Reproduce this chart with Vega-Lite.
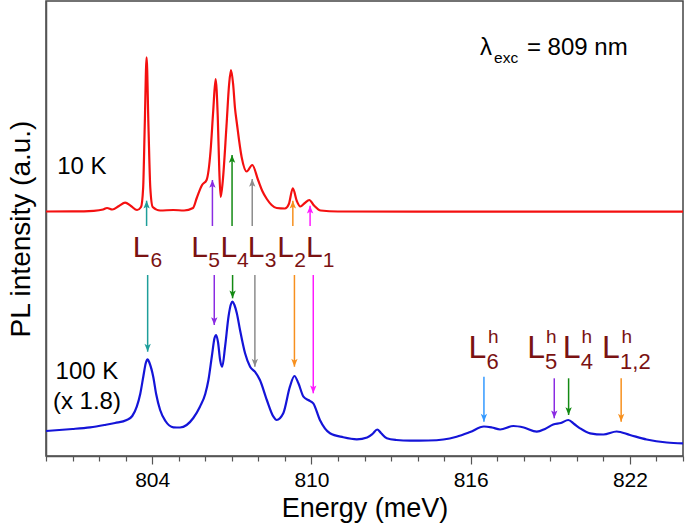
{
  "$schema": "https://vega.github.io/schema/vega-lite/v6.json",
  "width": 637,
  "height": 455,
  "autosize": {"type": "none"},
  "padding": {"left": 46, "top": 1, "right": 2, "bottom": 74},
  "config": {
    "view": {"stroke": "#444", "strokeWidth": 1.5},
    "font": "Liberation Sans",
    "axis": {"domainColor": "#555", "domainWidth": 1.5, "tickColor": "#555", "tickWidth": 1.2, "grid": false, "labelFont": "Liberation Sans", "titleFont": "Liberation Sans", "titleFontWeight": "normal", "labelColor": "#000", "titleColor": "#000"}
  },
  "datasets": {
    "spectra": [
      {"s": "10 K", "e": 800.0, "v": 244.5}, {"s": "10 K", "e": 801.0, "v": 244.6}, {"s": "10 K", "e": 801.8, "v": 245.2},
      {"s": "10 K", "e": 802.15, "v": 246.5}, {"s": "10 K", "e": 802.3, "v": 248}, {"s": "10 K", "e": 802.5, "v": 246.5},
      {"s": "10 K", "e": 802.75, "v": 250}, {"s": "10 K", "e": 802.98, "v": 253.3}, {"s": "10 K", "e": 803.2, "v": 250},
      {"s": "10 K", "e": 803.43, "v": 246}, {"s": "10 K", "e": 803.58, "v": 249}, {"s": "10 K", "e": 803.66, "v": 268},
      {"s": "10 K", "e": 803.72, "v": 330}, {"s": "10 K", "e": 803.79, "v": 398.7}, {"s": "10 K", "e": 803.86, "v": 330},
      {"s": "10 K", "e": 803.93, "v": 268}, {"s": "10 K", "e": 804.02, "v": 249}, {"s": "10 K", "e": 804.3, "v": 245.5},
      {"s": "10 K", "e": 804.8, "v": 246}, {"s": "10 K", "e": 805.2, "v": 245.5}, {"s": "10 K", "e": 805.54, "v": 248},
      {"s": "10 K", "e": 805.68, "v": 258}, {"s": "10 K", "e": 805.88, "v": 271}, {"s": "10 K", "e": 806.05, "v": 276},
      {"s": "10 K", "e": 806.2, "v": 305}, {"s": "10 K", "e": 806.3, "v": 345}, {"s": "10 K", "e": 806.39, "v": 377},
      {"s": "10 K", "e": 806.47, "v": 340}, {"s": "10 K", "e": 806.53, "v": 285}, {"s": "10 K", "e": 806.58, "v": 259},
      {"s": "10 K", "e": 806.66, "v": 275}, {"s": "10 K", "e": 806.8, "v": 330}, {"s": "10 K", "e": 806.9, "v": 372},
      {"s": "10 K", "e": 806.97, "v": 386}, {"s": "10 K", "e": 807.05, "v": 372}, {"s": "10 K", "e": 807.12, "v": 348},
      {"s": "10 K", "e": 807.19, "v": 333}, {"s": "10 K", "e": 807.37, "v": 299}, {"s": "10 K", "e": 807.56, "v": 284.5},
      {"s": "10 K", "e": 807.77, "v": 291}, {"s": "10 K", "e": 807.99, "v": 276}, {"s": "10 K", "e": 808.15, "v": 265},
      {"s": "10 K", "e": 808.32, "v": 257}, {"s": "10 K", "e": 808.5, "v": 251}, {"s": "10 K", "e": 808.69, "v": 248},
      {"s": "10 K", "e": 809.0, "v": 247.5}, {"s": "10 K", "e": 809.15, "v": 252}, {"s": "10 K", "e": 809.3, "v": 267.7},
      {"s": "10 K", "e": 809.45, "v": 255}, {"s": "10 K", "e": 809.58, "v": 249.5}, {"s": "10 K", "e": 809.75, "v": 253},
      {"s": "10 K", "e": 809.92, "v": 256}, {"s": "10 K", "e": 810.1, "v": 250.5}, {"s": "10 K", "e": 810.35, "v": 245.5},
      {"s": "10 K", "e": 811.0, "v": 244.5}, {"s": "10 K", "e": 814.0, "v": 244.4}, {"s": "10 K", "e": 818.0, "v": 244.3},
      {"s": "10 K", "e": 824.0, "v": 244.3},

      {"s": "100 K", "e": 800.0, "v": 25}, {"s": "100 K", "e": 800.5, "v": 26}, {"s": "100 K", "e": 801.0, "v": 27},
      {"s": "100 K", "e": 801.66, "v": 28.7}, {"s": "100 K", "e": 802.2, "v": 31}, {"s": "100 K", "e": 802.6, "v": 33},
      {"s": "100 K", "e": 803.04, "v": 36}, {"s": "100 K", "e": 803.25, "v": 40}, {"s": "100 K", "e": 803.42, "v": 49.3},
      {"s": "100 K", "e": 803.55, "v": 62}, {"s": "100 K", "e": 803.67, "v": 80}, {"s": "100 K", "e": 803.76, "v": 93},
      {"s": "100 K", "e": 803.83, "v": 96.7}, {"s": "100 K", "e": 803.9, "v": 93}, {"s": "100 K", "e": 804.04, "v": 79.3},
      {"s": "100 K", "e": 804.15, "v": 62}, {"s": "100 K", "e": 804.3, "v": 46}, {"s": "100 K", "e": 804.5, "v": 35},
      {"s": "100 K", "e": 804.8, "v": 28.7}, {"s": "100 K", "e": 805.05, "v": 28.5}, {"s": "100 K", "e": 805.3, "v": 31},
      {"s": "100 K", "e": 805.55, "v": 38}, {"s": "100 K", "e": 805.8, "v": 49.3}, {"s": "100 K", "e": 806.0, "v": 62},
      {"s": "100 K", "e": 806.12, "v": 76}, {"s": "100 K", "e": 806.25, "v": 100}, {"s": "100 K", "e": 806.35, "v": 118},
      {"s": "100 K", "e": 806.41, "v": 121}, {"s": "100 K", "e": 806.48, "v": 114}, {"s": "100 K", "e": 806.56, "v": 96},
      {"s": "100 K", "e": 806.64, "v": 89.3}, {"s": "100 K", "e": 806.75, "v": 110}, {"s": "100 K", "e": 806.88, "v": 140},
      {"s": "100 K", "e": 806.97, "v": 152}, {"s": "100 K", "e": 807.03, "v": 154.3}, {"s": "100 K", "e": 807.1, "v": 151},
      {"s": "100 K", "e": 807.19, "v": 142.7}, {"s": "100 K", "e": 807.31, "v": 126}, {"s": "100 K", "e": 807.5, "v": 102.7},
      {"s": "100 K", "e": 807.69, "v": 89.3}, {"s": "100 K", "e": 807.87, "v": 84.3}, {"s": "100 K", "e": 808.06, "v": 76},
      {"s": "100 K", "e": 808.32, "v": 56}, {"s": "100 K", "e": 808.57, "v": 39.3}, {"s": "100 K", "e": 808.69, "v": 36},
      {"s": "100 K", "e": 808.94, "v": 42.7}, {"s": "100 K", "e": 809.19, "v": 69.3}, {"s": "100 K", "e": 809.36, "v": 80},
      {"s": "100 K", "e": 809.51, "v": 72.7}, {"s": "100 K", "e": 809.7, "v": 59.3}, {"s": "100 K", "e": 809.88, "v": 56},
      {"s": "100 K", "e": 810.07, "v": 52.7}, {"s": "100 K", "e": 810.32, "v": 36}, {"s": "100 K", "e": 810.7, "v": 22.7},
      {"s": "100 K", "e": 811.2, "v": 18.7}, {"s": "100 K", "e": 811.71, "v": 16.7}, {"s": "100 K", "e": 812.1, "v": 18.5},
      {"s": "100 K", "e": 812.3, "v": 22}, {"s": "100 K", "e": 812.48, "v": 26.5}, {"s": "100 K", "e": 812.62, "v": 23},
      {"s": "100 K", "e": 812.84, "v": 17.7}, {"s": "100 K", "e": 813.2, "v": 16}, {"s": "100 K", "e": 813.72, "v": 15.3},
      {"s": "100 K", "e": 814.4, "v": 15.5}, {"s": "100 K", "e": 814.97, "v": 16.5}, {"s": "100 K", "e": 815.47, "v": 19.3},
      {"s": "100 K", "e": 815.98, "v": 24}, {"s": "100 K", "e": 816.5, "v": 29.5}, {"s": "100 K", "e": 816.8, "v": 28.5},
      {"s": "100 K", "e": 817.11, "v": 26.5}, {"s": "100 K", "e": 817.61, "v": 30}, {"s": "100 K", "e": 818.0, "v": 28.5},
      {"s": "100 K", "e": 818.49, "v": 24.3}, {"s": "100 K", "e": 818.8, "v": 27}, {"s": "100 K", "e": 819.11, "v": 31.5},
      {"s": "100 K", "e": 819.4, "v": 33}, {"s": "100 K", "e": 819.68, "v": 36}, {"s": "100 K", "e": 819.9, "v": 32},
      {"s": "100 K", "e": 820.12, "v": 27.7}, {"s": "100 K", "e": 820.5, "v": 22.7}, {"s": "100 K", "e": 821.0, "v": 21.5},
      {"s": "100 K", "e": 821.5, "v": 24.5}, {"s": "100 K", "e": 822.0, "v": 21}, {"s": "100 K", "e": 822.63, "v": 16.5},
      {"s": "100 K", "e": 823.39, "v": 13.5}, {"s": "100 K", "e": 824.0, "v": 12.7}
    ],
    "arrows": [
      {"k": "L6", "e": 803.79, "y1": 230, "y2": 255.3, "dir": "up"},
      {"k": "L5", "e": 806.27, "y1": 230, "y2": 276, "dir": "up"},
      {"k": "L4", "e": 807.01, "y1": 230, "y2": 301, "dir": "up"},
      {"k": "L3", "e": 807.77, "y1": 230, "y2": 277, "dir": "up"},
      {"k": "L2", "e": 809.30, "y1": 230, "y2": 255.3, "dir": "up"},
      {"k": "L1", "e": 809.95, "y1": 230, "y2": 250.3, "dir": "up"},
      {"k": "L6", "e": 803.83, "y1": 181, "y2": 104.3, "dir": "down"},
      {"k": "L5", "e": 806.34, "y1": 181, "y2": 131, "dir": "down"},
      {"k": "L4", "e": 807.03, "y1": 181, "y2": 157.7, "dir": "down"},
      {"k": "L3", "e": 807.87, "y1": 181, "y2": 89.3, "dir": "down"},
      {"k": "L2", "e": 809.36, "y1": 181, "y2": 89.3, "dir": "down"},
      {"k": "L1", "e": 810.07, "y1": 181, "y2": 62.7, "dir": "down"},
      {"k": "L6h", "e": 816.50, "y1": 79.3, "y2": 34.3, "dir": "down"},
      {"k": "L5", "e": 819.15, "y1": 77.7, "y2": 37.7, "dir": "down"},
      {"k": "L4", "e": 819.69, "y1": 77.7, "y2": 41, "dir": "down"},
      {"k": "L2", "e": 821.67, "y1": 77.7, "y2": 34.3, "dir": "down"}
    ],
    "labels": [
      {"kind": "note", "t": "10 K", "e": 800.42, "v": 282},
      {"kind": "note", "t": "100 K", "e": 800.36, "v": 76.7},
      {"kind": "note", "t": "(x 1.8)", "e": 800.26, "v": 47},
      {"kind": "note", "t": "λ", "e": 816.35, "v": 401},
      {"kind": "note", "t": "= 809 nm", "e": 818.12, "v": 401},
      {"kind": "noteSub", "t": "exc", "e": 816.88, "v": 393},
      {"kind": "L", "t": "L", "e": 803.27, "v": 198.7},
      {"kind": "L", "t": "L", "e": 805.47, "v": 198.7},
      {"kind": "L", "t": "L", "e": 806.57, "v": 198.7},
      {"kind": "L", "t": "L", "e": 807.60, "v": 198.7},
      {"kind": "L", "t": "L", "e": 808.71, "v": 198.7},
      {"kind": "L", "t": "L", "e": 809.80, "v": 198.7},
      {"kind": "Lsub", "t": "6", "e": 803.94, "v": 189.3},
      {"kind": "Lsub", "t": "5", "e": 806.11, "v": 189.3},
      {"kind": "Lsub", "t": "4", "e": 807.2, "v": 189.3},
      {"kind": "Lsub", "t": "3", "e": 808.24, "v": 189.3},
      {"kind": "Lsub", "t": "2", "e": 809.35, "v": 189.3},
      {"kind": "Lsub", "t": "1", "e": 810.43, "v": 189.3},
      {"kind": "Lh", "t": "L", "e": 815.92, "v": 97.7},
      {"kind": "Lh", "t": "L", "e": 818.13, "v": 97.7},
      {"kind": "Lh", "t": "L", "e": 819.47, "v": 97.7},
      {"kind": "Lh", "t": "L", "e": 820.95, "v": 97.7},
      {"kind": "Lhsub", "t": "6", "e": 816.60, "v": 87},
      {"kind": "Lhsub", "t": "5", "e": 818.80, "v": 87},
      {"kind": "Lhsub", "t": "4", "e": 820.15, "v": 87},
      {"kind": "Lhsub", "t": "1,2", "e": 821.63, "v": 87},
      {"kind": "Lhsup", "t": "h", "e": 816.65, "v": 113},
      {"kind": "Lhsup", "t": "h", "e": 818.84, "v": 113},
      {"kind": "Lhsup", "t": "h", "e": 820.18, "v": 113},
      {"kind": "Lhsup", "t": "h", "e": 821.68, "v": 113}
    ]
  },
  "encoding": {
    "x": {"field": "e", "type": "quantitative", "scale": {"domain": [800, 824], "nice": false, "zero": false},
      "axis": {"title": "Energy (meV)", "titleFontSize": 27, "titlePadding": 5, "labelFontSize": 21, "labelPadding": 5,
        "values": [800,801,802,803,804,805,806,807,808,809,810,811,812,813,814,815,816,817,818,819,820,821,822,823,824],
        "labelExpr": "datum.value % 6 == 0 ? datum.label : ''",
        "tickSize": {"condition": {"test": "datum.value % 6 == 0", "value": 8}, "value": 5},
        "labelFlush": false, "labelOverlap": false}}
  },
  "layer": [
    {
      "data": {"name": "spectra"},
      "mark": {"type": "line", "interpolate": "monotone", "strokeWidth": 2.2, "clip": true},
      "encoding": {
        "y": {"field": "v", "type": "quantitative", "scale": {"domain": [0, 455], "nice": false, "zero": false},
          "axis": {"title": "PL intensity (a.u.)", "titleFontSize": 28, "titlePadding": 11, "labels": false, "ticks": false}},
        "stroke": {"field": "s", "type": "nominal", "scale": {"domain": ["10 K", "100 K"], "range": ["#f41010", "#1414d8"]}, "legend": null},
        "detail": {"field": "s"}
      }
    },
    {
      "data": {"name": "arrows"},
      "mark": {"type": "rule", "strokeWidth": 1.5},
      "encoding": {
        "y": {"field": "y1", "type": "quantitative"},
        "y2": {"field": "y2"},
        "color": {"field": "k", "type": "nominal", "scale": {"domain": ["L6", "L5", "L4", "L3", "L2", "L1", "L6h"], "range": ["#1e9e9a", "#8a2be2", "#138a13", "#8c8c8c", "#f7901e", "#ff1aff", "#3399ff"]}, "legend": null}
      }
    },
    {
      "data": {"name": "arrows"},
      "transform": [{"filter": "datum.dir == 'up'"}],
      "mark": {"type": "point", "filled": true, "opacity": 1, "shape": "M0,0L-0.85,2.1L0,1.6L0.85,2.1Z", "size": 56},
      "encoding": {
        "y": {"field": "y2", "type": "quantitative"},
        "color": {"field": "k", "type": "nominal", "legend": null}
      }
    },
    {
      "data": {"name": "arrows"},
      "transform": [{"filter": "datum.dir == 'down'"}],
      "mark": {"type": "point", "filled": true, "opacity": 1, "shape": "M0,0L-0.85,-2.1L0,-1.6L0.85,-2.1Z", "size": 56},
      "encoding": {
        "y": {"field": "y2", "type": "quantitative"},
        "color": {"field": "k", "type": "nominal", "legend": null}
      }
    },
    {
      "data": {"name": "labels"},
      "transform": [{"filter": "datum.kind == 'note'"}],
      "mark": {"type": "text", "align": "left", "baseline": "alphabetic", "fontSize": 24, "color": "#000"},
      "encoding": {"y": {"field": "v", "type": "quantitative"}, "text": {"field": "t"}}
    },
    {
      "data": {"name": "labels"},
      "transform": [{"filter": "datum.kind == 'noteSub'"}],
      "mark": {"type": "text", "align": "left", "baseline": "alphabetic", "fontSize": 15.5, "color": "#000"},
      "encoding": {"y": {"field": "v", "type": "quantitative"}, "text": {"field": "t"}}
    },
    {
      "data": {"name": "labels"},
      "transform": [{"filter": "datum.kind == 'L'"}],
      "mark": {"type": "text", "align": "left", "baseline": "alphabetic", "fontSize": 30, "color": "#7a1212"},
      "encoding": {"y": {"field": "v", "type": "quantitative"}, "text": {"field": "t"}}
    },
    {
      "data": {"name": "labels"},
      "transform": [{"filter": "datum.kind == 'Lsub'"}],
      "mark": {"type": "text", "align": "left", "baseline": "alphabetic", "fontSize": 21, "color": "#7a1212"},
      "encoding": {"y": {"field": "v", "type": "quantitative"}, "text": {"field": "t"}}
    },
    {
      "data": {"name": "labels"},
      "transform": [{"filter": "datum.kind == 'Lh'"}],
      "mark": {"type": "text", "align": "left", "baseline": "alphabetic", "fontSize": 32, "color": "#7a1212"},
      "encoding": {"y": {"field": "v", "type": "quantitative"}, "text": {"field": "t"}}
    },
    {
      "data": {"name": "labels"},
      "transform": [{"filter": "datum.kind == 'Lhsub'"}],
      "mark": {"type": "text", "align": "left", "baseline": "alphabetic", "fontSize": 22, "color": "#7a1212"},
      "encoding": {"y": {"field": "v", "type": "quantitative"}, "text": {"field": "t"}}
    },
    {
      "data": {"name": "labels"},
      "transform": [{"filter": "datum.kind == 'Lhsup'"}],
      "mark": {"type": "text", "align": "left", "baseline": "alphabetic", "fontSize": 19, "color": "#7a1212"},
      "encoding": {"y": {"field": "v", "type": "quantitative"}, "text": {"field": "t"}}
    }
  ]
}
